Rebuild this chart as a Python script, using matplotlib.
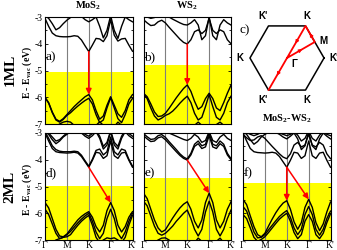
import numpy as np
import matplotlib
matplotlib.use("Agg")
import matplotlib.pyplot as plt
from matplotlib.transforms import blended_transform_factory

plt.rcParams['font.family'] = ['Liberation Serif', 'DejaVu Serif']
plt.rcParams['mathtext.fontset'] = 'custom'
plt.rcParams['mathtext.rm'] = 'Liberation Serif'
plt.rcParams['mathtext.bf'] = 'Liberation Serif:bold'
plt.rcParams['axes.unicode_minus'] = False

# k path: G-M-K-G-K', 6 points per segment
kpts = np.arange(25) / 6.0
ksym = [0, 1, 2, 3, 4]
klabels = ['\u0393', 'M', 'K', '\u0393', "K'"]

# ---- a) MoS2 1ML ----
a_cb1 = [-3.05,-3.35,-3.60,-3.70,-3.73,-3.74,-3.74, -3.73,-3.70,-3.72,-3.86,-4.08,-4.29,
         -4.05,-3.80,-3.82,-3.92,-3.70,-3.10, -3.68,-3.90,-3.82,-3.80,-4.05,-4.28]
a_cb2 = [-2.95,-3.05,-3.25,-3.48,-3.40,-3.25,-3.12, -3.02,-2.95,-2.92,-2.98,-3.10,-3.18,
         -3.10,-3.00,-3.35,-3.78,-3.50,-2.95, -3.50,-3.80,-3.35,-3.00,-3.10,-3.18]
a_vb1 = [-6.00,-6.20,-6.55,-6.82,-6.90,-6.80,-6.65, -6.50,-6.35,-6.22,-6.10,-5.98,-5.90,
         -6.10,-6.50,-6.82,-6.70,-6.30,-5.98, -6.30,-6.62,-6.75,-6.50,-6.10,-5.90]
a_vb2 = [-6.02,-6.22,-6.58,-6.85,-6.93,-6.83,-6.68, -6.58,-6.45,-6.33,-6.22,-6.12,-6.04,
         -6.25,-6.65,-6.95,-6.85,-6.40,-6.02, -6.40,-6.80,-6.95,-6.65,-6.25,-6.04]
a_vb3 = [-7.40,-7.30,-7.20,-7.10,-7.00,-6.93,-6.90, -6.93,-7.05,-7.20,-7.30,-7.35,-7.40,
         -7.30,-7.05,-6.92,-7.05,-7.20,-7.30, -7.10,-6.93,-7.05,-7.20,-7.35,-7.40]

# ---- b) WS2 1ML ----
b_cb1 = [-3.10,-3.22,-3.32,-3.30,-3.18,-3.12,-3.22, -3.38,-3.53,-3.68,-3.83,-3.95,-4.01,
         -3.85,-3.55,-3.48,-3.62,-3.50,-3.05, -3.50,-3.62,-3.48,-3.55,-3.85,-4.00]
b_cb2 = [-2.95,-3.00,-3.05,-3.02,-2.95,-2.92,-2.95, -3.00,-3.08,-3.15,-3.22,-3.28,-3.30,
         -3.22,-3.10,-3.30,-3.85,-3.70,-3.00, -3.70,-3.85,-3.30,-3.10,-3.22,-3.30]
b_vb1 = [-5.85,-5.98,-6.25,-6.55,-6.72,-6.70,-6.60, -6.42,-6.22,-6.02,-5.84,-5.67,-5.54,
         -5.78,-6.15,-6.45,-6.35,-6.05,-5.85, -6.05,-6.40,-6.50,-6.20,-5.85,-5.55]
b_vb2 = [-5.87,-6.05,-6.40,-6.70,-6.85,-6.78,-6.68, -6.62,-6.52,-6.38,-6.22,-6.08,-5.96,
         -6.20,-6.60,-6.85,-6.75,-6.35,-5.90, -6.35,-6.75,-6.85,-6.60,-6.20,-5.96]
b_vb3 = [-7.50,-7.40,-7.30,-7.20,-7.10,-7.05,-7.05, -7.10,-7.20,-7.30,-7.35,-7.40,-7.40,
         -7.25,-7.05,-6.93,-7.05,-7.20,-7.30, -7.20,-7.02,-6.93,-7.05,-7.25,-7.40]

# ---- d) MoS2 2ML ----
d_cb1 = [-3.00,-3.30,-3.58,-3.70,-3.73,-3.74,-3.75, -3.74,-3.72,-3.75,-3.88,-4.08,-4.28,
         -4.02,-3.72,-3.75,-3.95,-3.85,-3.30, -3.85,-3.95,-3.75,-3.72,-4.02,-4.28]
d_cb2 = [-2.95,-3.20,-3.48,-3.62,-3.68,-3.70,-3.70, -3.70,-3.68,-3.70,-3.83,-4.04,-4.24,
         -3.98,-3.65,-3.60,-3.82,-3.70,-3.15, -3.70,-3.82,-3.60,-3.65,-3.98,-4.24]
d_cb3 = [-2.95,-3.05,-3.25,-3.40,-3.30,-3.15,-3.05, -2.95,-2.90,-2.92,-3.00,-3.12,-3.20,
         -3.10,-2.95,-3.20,-3.60,-3.45,-2.95, -3.45,-3.60,-3.20,-2.95,-3.10,-3.20]
d_cb4 = [-2.92,-3.00,-3.15,-3.30,-3.25,-3.12,-3.00, -2.92,-2.88,-2.88,-2.95,-3.05,-3.12,
         -3.02,-2.90,-3.12,-3.50,-3.35,-2.92, -3.35,-3.50,-3.12,-2.90,-3.02,-3.12]
d_vb1 = [-5.60,-5.80,-6.20,-6.60,-6.85,-6.88,-6.78, -6.60,-6.42,-6.25,-6.12,-6.02,-5.94,
         -6.15,-6.50,-6.70,-6.45,-5.90,-5.60, -5.90,-6.45,-6.70,-6.50,-6.15,-5.94]
d_vb2 = [-5.85,-6.05,-6.40,-6.75,-6.95,-6.90,-6.80, -6.68,-6.52,-6.36,-6.22,-6.10,-6.00,
         -6.30,-6.70,-6.95,-6.75,-6.20,-5.85, -6.20,-6.75,-6.95,-6.70,-6.30,-6.00]
d_vb3 = [-7.30,-7.20,-7.10,-7.00,-6.95,-6.90,-6.88, -6.80,-6.62,-6.45,-6.30,-6.18,-6.08,
         -6.45,-6.90,-7.10,-7.00,-6.92,-6.95, -6.92,-7.00,-7.10,-6.90,-6.45,-6.08]

# ---- e) WS2 2ML ----
e_cb1 = [-3.10,-3.22,-3.32,-3.30,-3.18,-3.14,-3.25, -3.40,-3.55,-3.70,-3.84,-3.95,-4.01,
         -3.82,-3.50,-3.40,-3.58,-3.52,-3.10, -3.52,-3.58,-3.40,-3.50,-3.82,-4.00]
e_cb2 = [-3.02,-3.14,-3.24,-3.22,-3.10,-3.06,-3.16, -3.32,-3.47,-3.62,-3.78,-3.90,-3.97,
         -3.76,-3.42,-3.30,-3.48,-3.42,-3.00, -3.42,-3.48,-3.30,-3.42,-3.76,-3.96]
e_cb3 = [-2.95,-3.00,-3.02,-3.00,-2.95,-2.92,-2.95, -3.00,-3.06,-3.12,-3.18,-3.24,-3.28,
         -3.20,-3.05,-3.15,-3.35,-3.28,-2.95, -3.28,-3.35,-3.15,-3.05,-3.20,-3.28]
e_vb1 = [-5.25,-5.45,-5.85,-6.25,-6.55,-6.70,-6.62, -6.40,-6.18,-5.98,-5.80,-5.66,-5.57,
         -5.85,-6.30,-6.55,-6.25,-5.60,-5.25, -5.60,-6.25,-6.55,-6.30,-5.85,-5.57]
e_vb2 = [-5.55,-5.72,-6.10,-6.48,-6.75,-6.82,-6.75, -6.62,-6.48,-6.30,-6.15,-6.00,-5.88,
         -6.20,-6.60,-6.85,-6.60,-5.95,-5.55, -5.95,-6.60,-6.85,-6.60,-6.20,-5.88]
e_vb3 = [-7.40,-7.30,-7.20,-7.10,-7.00,-6.93,-6.92, -7.00,-7.15,-7.30,-7.35,-7.40,-7.40,
         -7.30,-7.10,-6.93,-7.05,-7.20,-7.30, -7.20,-7.05,-6.93,-7.10,-7.30,-7.40]

# ---- f) MoS2-WS2 ----
f_cb1 = [-3.00,-3.30,-3.58,-3.70,-3.73,-3.74,-3.75, -3.74,-3.72,-3.75,-3.88,-4.08,-4.28,
         -4.02,-3.72,-3.75,-3.95,-3.85,-3.30, -3.85,-3.95,-3.75,-3.72,-4.02,-4.28]
f_cb2 = [-3.05,-3.18,-3.28,-3.26,-3.15,-3.10,-3.20, -3.35,-3.50,-3.64,-3.78,-3.90,-3.96,
         -3.78,-3.45,-3.35,-3.52,-3.45,-3.05, -3.45,-3.52,-3.35,-3.45,-3.78,-3.96]
f_cb3 = [-2.95,-3.05,-3.25,-3.42,-3.32,-3.15,-3.05, -2.98,-2.95,-2.98,-3.05,-3.15,-3.22,
         -3.12,-3.00,-3.22,-3.62,-3.48,-2.95, -3.48,-3.62,-3.22,-3.00,-3.12,-3.22]
f_cb4 = [-2.92,-2.98,-3.05,-3.10,-3.05,-2.98,-2.95, -2.92,-2.92,-2.95,-3.00,-3.05,-3.10,
         -3.05,-2.95,-3.08,-3.30,-3.20,-2.92, -3.20,-3.30,-3.08,-2.95,-3.05,-3.10]
f_vb1 = [-5.48,-5.68,-6.10,-6.50,-6.80,-6.88,-6.75, -6.48,-6.22,-5.98,-5.78,-5.62,-5.53,
         -5.85,-6.32,-6.60,-6.35,-5.78,-5.48, -5.78,-6.35,-6.65,-6.40,-5.95,-5.58]
f_vb2 = [-5.75,-5.92,-6.30,-6.70,-6.92,-6.90,-6.80, -6.62,-6.45,-6.28,-6.12,-6.00,-5.90,
         -6.15,-6.55,-6.80,-6.60,-6.05,-5.75, -6.05,-6.60,-6.82,-6.60,-6.20,-5.92]
f_vb3 = [-6.05,-6.20,-6.55,-6.90,-7.05,-6.98,-6.88, -6.72,-6.55,-6.38,-6.22,-6.10,-6.00,
         -6.30,-6.72,-6.95,-6.80,-6.30,-6.05, -6.30,-6.80,-6.95,-6.75,-6.35,-6.02]

# top of the yellow (occupied) region for each panel
fill_top = {'a': -5.06, 'b': -4.78, 'd': -4.98, 'e': -4.67, 'f': -4.88}

W, H = 337, 250
fig = plt.figure(figsize=(W / 100, H / 100), dpi=100)


def px_axes(x0, y0, x1, y1):
    return fig.add_axes([x0 / W, 1 - y1 / H, (x1 - x0) / W, (y1 - y0) / H])


def draw_panel(ax, bands, ftop, label, arrows, ylabels, xlabels):
    ax.axhspan(-7.5, ftop, color='#ffff00', lw=0, zorder=0)
    for x in ksym[1:-1]:
        ax.axvline(x, color='#7f7f7f', lw=0.8, zorder=1)
    for b in bands:
        ax.plot(kpts, b, color='black', lw=1.0, zorder=2)
    for (x0, y0, x1, y1) in arrows:
        ax.annotate('', xy=(x1, y1), xytext=(x0, y0),
                    arrowprops=dict(arrowstyle='-|>', color='red', lw=1.1,
                                    mutation_scale=8, shrinkA=0, shrinkB=0),
                    zorder=3)
    ax.set_xlim(0, 4)
    ax.set_ylim(-7, -3)
    ax.set_yticks([-7, -6, -5, -4, -3])
    ax.set_yticks(np.arange(-7, -2.9, 0.5), minor=True)
    ax.set_xticks([])
    ax.tick_params(axis='y', which='both', direction='in', left=True, right=True,
                   labelsize=7, pad=1.5, width=0.6)
    ax.tick_params(axis='y', which='major', length=2.5)
    ax.tick_params(axis='y', which='minor', length=1.5)
    if xlabels:
        tr = blended_transform_factory(ax.transData, fig.transFigure)
        for x, s in zip(ksym, klabels):
            ax.text(x, 1 - 245.5 / H, s, transform=tr, ha='center', va='center',
                    fontsize=7, clip_on=False)
    if not ylabels:
        ax.set_yticklabels([])
    for s in ax.spines.values():
        s.set_linewidth(0.8)
    ax.text(0.035, -4.52, label, fontsize=9.5, ha='left', va='center', zorder=4)


K, G = 12, 18
ax_a = px_axes(45, 17, 132.5, 124)
draw_panel(ax_a, [a_cb1, a_cb2, a_vb1, a_vb2, a_vb3], fill_top['a'], 'a)',
           [(kpts[K], a_cb1[K], kpts[K], a_vb1[K])], True, False)
ax_b = px_axes(143.5, 17, 231, 124)
draw_panel(ax_b, [b_cb1, b_cb2, b_vb1, b_vb2, b_vb3], fill_top['b'], 'b)',
           [(kpts[K], b_cb1[K], kpts[K], b_vb1[K])], False, False)
ax_d = px_axes(45, 133, 132.5, 240)
draw_panel(ax_d, [d_cb1, d_cb2, d_cb3, d_cb4, d_vb1, d_vb2, d_vb3], fill_top['d'], 'd)',
           [(kpts[K], d_cb1[K], kpts[G], d_vb1[G])], True, True)
ax_e = px_axes(143.5, 133, 231, 240)
draw_panel(ax_e, [e_cb1, e_cb2, e_cb3, e_vb1, e_vb2, e_vb3], fill_top['e'], 'e)',
           [(kpts[K], e_cb1[K], kpts[G], e_vb1[G])], False, True)
ax_f = px_axes(243, 133, 330.5, 240)
draw_panel(ax_f, [f_cb1, f_cb2, f_cb3, f_cb4, f_vb1, f_vb2, f_vb3], fill_top['f'], 'f)',
           [(kpts[K], f_cb1[K], kpts[K], f_vb1[K]),
            (kpts[K], f_cb1[K], kpts[G], f_vb1[G])], False, True)

# ---- c) Brillouin zone ----
ax_c = px_axes(237, 8, 337, 108)
ax_c.set_xlim(-1.35, 1.35)
ax_c.set_ylim(-1.35, 1.35)
ax_c.axis('off')
ang = np.radians([0, 60, 120, 180, 240, 300, 360])
hx, hy = np.cos(ang), np.sin(ang)
ax_c.plot(hx, hy, color='black', lw=1.1)
vert_names = ["K'", 'K', "K'", 'K', "K'", 'K']
vert_offsets = [(7, 0), (1, 7), (-4, 7), (-7, 0), (-4, -7), (1, -7)]
for i in range(6):
    ax_c.annotate(vert_names[i], (hx[i], hy[i]), xytext=vert_offsets[i],
                  textcoords='offset points', ha='center', va='center',
                  fontsize=7, fontweight='bold', family='Liberation Sans')
gam = (0.0, 0.0)
mpt = ((hx[0] + hx[1]) / 2, (hy[0] + hy[1]) / 2)
kpt = (hx[1], hy[1])
kppt = (hx[4], hy[4])
path = [gam, mpt, kpt, gam, kppt]
ax_c.plot([p[0] for p in path], [p[1] for p in path], color='red', lw=1.3,
          solid_capstyle='round')
for p0, p1 in zip(path[:-1], path[1:]):
    xa = p0[0] + 0.45 * (p1[0] - p0[0])
    ya = p0[1] + 0.45 * (p1[1] - p0[1])
    xb = p0[0] + 0.55 * (p1[0] - p0[0])
    yb = p0[1] + 0.55 * (p1[1] - p0[1])
    ax_c.annotate('', xy=(xb, yb), xytext=(xa, ya),
                  arrowprops=dict(arrowstyle='-|>', color='red', lw=0.8,
                                  mutation_scale=5, shrinkA=0, shrinkB=0))
ax_c.annotate('M', mpt, xytext=(6, 1), textcoords='offset points', ha='center',
              va='center', fontsize=7, fontweight='bold', family='Liberation Sans')
ax_c.annotate('\u0393', gam, xytext=(5, -4), textcoords='offset points', ha='center',
              va='center', fontsize=7, fontweight='bold', family='Liberation Sans')
ax_c.text(-1.28, 0.75, 'c)', fontsize=9.5, ha='left', va='center')

# ---- labels ----
def ftext(x, y, s, **kw):
    fig.text(x / W, 1 - y / H, s, ha='center', va='center', **kw)

ftext(88.5, 6, r'MoS$_\mathbf{2}$', fontsize=7.5, fontweight='bold')
ftext(187, 6, r'WS$_\mathbf{2}$', fontsize=7.5, fontweight='bold')
ftext(287, 119, r'MoS$_\mathbf{2}$-WS$_\mathbf{2}$', fontsize=7.5, fontweight='bold')
ftext(10, 70, '1ML', fontsize=11, fontweight='bold', rotation=90)
ftext(10, 187, '2ML', fontsize=11, fontweight='bold', rotation=90)
ftext(27, 72, r'E - E$_\mathbf{vac}$ (eV)', fontsize=7, fontweight='bold', rotation=90)
ftext(27, 189, r'E - E$_\mathbf{vac}$ (eV)', fontsize=7, fontweight='bold', rotation=90)

fig.savefig('out.png', dpi=100)
